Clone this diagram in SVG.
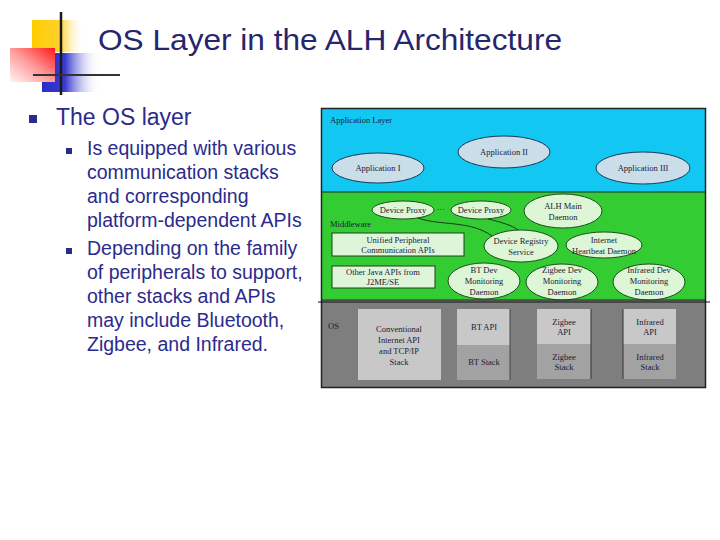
<svg xmlns="http://www.w3.org/2000/svg" width="720" height="540" viewBox="0 0 720 540">
<defs>
<linearGradient id="gY" x1="0" y1="0" x2="1" y2="0"><stop offset="0" stop-color="#FFCC00"/><stop offset="0.55" stop-color="#FFD22E"/><stop offset="1" stop-color="#FFFFFF" stop-opacity="0"/></linearGradient>
<linearGradient id="gR" x1="0" y1="1" x2="1" y2="0"><stop offset="0" stop-color="#FFF4F4"/><stop offset="0.5" stop-color="#FF9A9A"/><stop offset="1" stop-color="#FF1A1A"/></linearGradient>
<linearGradient id="gB" x1="0" y1="0" x2="1" y2="0"><stop offset="0" stop-color="#2B2BC8"/><stop offset="0.4" stop-color="#3A3AD0"/><stop offset="1" stop-color="#FFFFFF" stop-opacity="0"/></linearGradient>
<style>
.t{font-family:"Liberation Sans",Arial,sans-serif;fill:#2B2B8C}
.d{font-family:"Liberation Serif","Times New Roman",serif;font-size:8.5px;fill:#1A1A3A;text-anchor:middle}
.dl{font-family:"Liberation Serif","Times New Roman",serif;font-size:8.5px;fill:#1A1A3A}
.ea{fill:#C9DEE8;stroke:#1E3A5A;stroke-width:1}
.eg{fill:#DDF6D6;stroke:#1E4E1E;stroke-width:1}
.rg{fill:#DFF5DA;stroke:#1E3E1E;stroke-width:1}
.lt{fill:#C8C8C8}
.dk{fill:#A2A2A2}
.cn{fill:none;stroke:#1A3A1A;stroke-width:1}
</style>
</defs>
<rect width="720" height="540" fill="#FFFFFF"/>

<g id="logo">
<rect x="32" y="20" width="52" height="32" fill="url(#gY)"/>
<rect x="42" y="53" width="58" height="39" fill="url(#gB)"/>
<rect x="10" y="48" width="45" height="34" fill="url(#gR)"/>
<line x1="61" y1="12" x2="61" y2="95" stroke="#1A1A1A" stroke-width="2.5"/>
<line x1="33" y1="75" x2="120" y2="75" stroke="#333333" stroke-width="2"/>
</g>

<text id="title" class="t" x="98" y="50" font-size="29" textLength="464" lengthAdjust="spacingAndGlyphs" style="fill:#26266E">OS Layer in the ALH Architecture</text>

<g id="bullets">
<rect x="29" y="115" width="8" height="8" fill="#2B2B8C"/>
<text class="t" x="56" y="125" font-size="23">The OS layer</text>
<rect x="66" y="148" width="6" height="6" fill="#2B2B8C"/>
<rect x="66" y="248" width="6" height="6" fill="#2B2B8C"/>
<g class="t" font-size="19.5">
<text x="87" y="155">Is equipped with various</text>
<text x="87" y="179">communication stacks</text>
<text x="87" y="203">and corresponding</text>
<text x="87" y="227">platform-dependent APIs</text>
<text x="87" y="255">Depending on the family</text>
<text x="87" y="279">of peripherals to support,</text>
<text x="87" y="303">other stacks and APIs</text>
<text x="87" y="327">may include Bluetooth,</text>
<text x="87" y="351">Zigbee, and Infrared.</text>
</g>
</g>

<g id="layers">
<rect x="321" y="108" width="385" height="84" fill="#12C8F2"/>
<rect x="321" y="192" width="385" height="108" fill="#33CC33"/>
<rect x="321" y="300" width="385" height="88" fill="#7E7E7E"/>
<line x1="321" y1="192" x2="706" y2="192" stroke="#1A2A2A" stroke-width="1"/>
<rect x="321.5" y="108.5" width="384" height="279" fill="none" stroke="#222222" stroke-width="1.5"/>
<text class="dl" x="330" y="123">Application Layer</text>
<text class="dl" x="330" y="227">Middleware</text>
<text class="dl" x="328" y="329">OS</text>
</g>

<g id="connectors">
<path class="cn" d="M418 218 C440 226 470 220 492 236"/>
<path class="cn" d="M488 219 C500 222 512 225 518 230"/>
</g>

<g id="app1"><ellipse class="ea" cx="378" cy="168" rx="46" ry="15"/><text class="d" x="378" y="171">Application I</text></g>
<g id="app2"><ellipse class="ea" cx="504" cy="152" rx="46" ry="16"/><text class="d" x="504" y="155">Application II</text></g>
<g id="app3"><ellipse class="ea" cx="643" cy="168" rx="47" ry="16"/><text class="d" x="643" y="171">Application III</text></g>

<g id="proxy1"><ellipse class="eg" cx="403" cy="210" rx="31" ry="9"/><text class="d" x="403" y="213">Device Proxy</text></g>
<g id="dots"><text class="d" x="441" y="212" font-size="10">···</text></g>
<g id="proxy2"><ellipse class="eg" cx="481" cy="210" rx="30" ry="9"/><text class="d" x="481" y="213">Device Proxy</text></g>
<g id="alhmain"><ellipse class="eg" cx="563" cy="211" rx="39" ry="17"/><text class="d" x="563" y="209">ALH Main</text><text class="d" x="563" y="220">Daemon</text></g>
<g id="registry"><ellipse class="eg" cx="521" cy="246" rx="37" ry="16"/><text class="d" x="521" y="244">Device Registry</text><text class="d" x="521" y="255">Service</text></g>
<g id="heartbeat"><ellipse class="eg" cx="604" cy="245" rx="38" ry="13"/><text class="d" x="604" y="243">Internet</text><text class="d" x="604" y="254">Heartbeat Daemon</text></g>
<g id="unified"><rect class="rg" x="332" y="233" width="132" height="23"/><text class="d" x="398" y="243">Unified Peripheral</text><text class="d" x="398" y="253">Communication APIs</text></g>
<g id="otherjava"><rect class="rg" x="332" y="266" width="103" height="22"/><text class="d" x="383" y="275">Other Java APIs from</text><text class="d" x="383" y="285">J2ME/SE</text></g>
<g id="btdev"><ellipse class="eg" cx="484" cy="281" rx="36" ry="18"/><text class="d" x="484" y="273">BT Dev</text><text class="d" x="484" y="284">Monitoring</text><text class="d" x="484" y="295">Daemon</text></g>
<g id="zbdev"><ellipse class="eg" cx="562" cy="282" rx="36" ry="18"/><text class="d" x="562" y="273">Zigbee Dev</text><text class="d" x="562" y="284">Monitoring</text><text class="d" x="562" y="295">Daemon</text></g>
<g id="irdev"><ellipse class="eg" cx="649" cy="282" rx="36" ry="18"/><text class="d" x="649" y="273">Infrared Dev</text><text class="d" x="649" y="284">Monitoring</text><text class="d" x="649" y="295">Daemon</text></g>

<line x1="321" y1="300" x2="706" y2="300" stroke="#1A2A1A" stroke-width="1"/>

<g id="conventional"><rect class="lt" x="358" y="309" width="83" height="71"/><text class="d" x="399" y="332">Conventional</text><text class="d" x="399" y="343">Internet API</text><text class="d" x="399" y="354">and TCP/IP</text><text class="d" x="399" y="365">Stack</text></g>
<g id="bt"><rect class="lt" x="457" y="309" width="53" height="36"/><rect class="dk" x="457" y="345" width="53" height="35"/><line x1="510" y1="309" x2="510" y2="380" stroke="#444" stroke-width="1"/><text class="d" x="484" y="330">BT API</text><text class="d" x="484" y="365">BT Stack</text></g>
<g id="zigbee"><rect class="lt" x="537" y="309" width="54" height="35"/><rect class="dk" x="537" y="344" width="54" height="35"/><line x1="591" y1="309" x2="591" y2="379" stroke="#333" stroke-width="1"/><text class="d" x="564" y="325">Zigbee</text><text class="d" x="564" y="335">API</text><text class="d" x="564" y="360">Zigbee</text><text class="d" x="564" y="370">Stack</text></g>
<g id="infrared"><rect class="lt" x="623" y="309" width="53" height="35"/><rect class="dk" x="623" y="344" width="53" height="35"/><line x1="623" y1="309" x2="623" y2="379" stroke="#333" stroke-width="1"/><text class="d" x="650" y="325">Infrared</text><text class="d" x="650" y="335">API</text><text class="d" x="650" y="360">Infrared</text><text class="d" x="650" y="370">Stack</text></g>

<line x1="318" y1="302" x2="710" y2="302" stroke="#111111" stroke-width="1"/>
</svg>
